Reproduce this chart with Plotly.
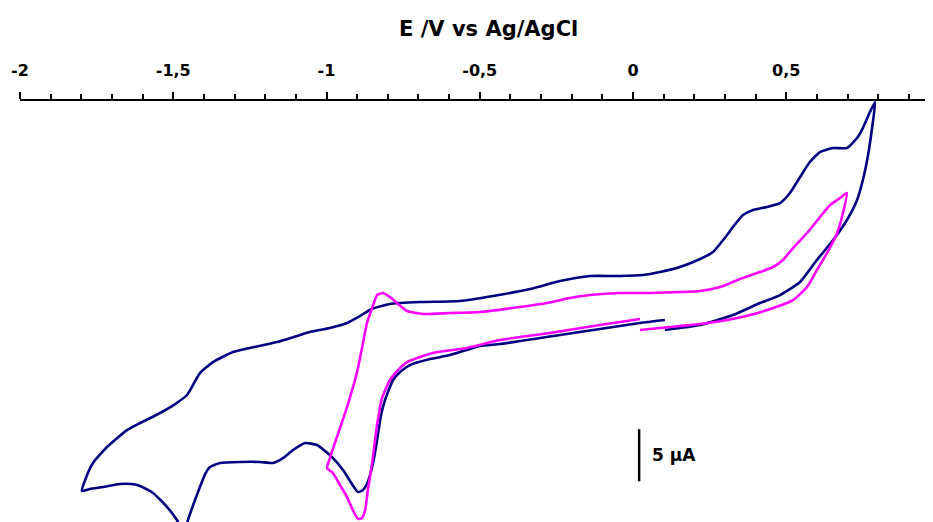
import numpy as np
import plotly.graph_objects as go

# ---- data (E in V vs Ag/AgCl, I in µA) ----
navy_E = [0.104, 0.219, 0.326, 0.414, 0.480, 0.545, 0.600, 0.653, 0.698, 0.731, 0.750, 0.767,
          0.780, 0.790,
          0.773, 0.750, 0.731, 0.698, 0.653, 0.610, 0.577, 0.545, 0.512, 0.480, 0.437, 0.392,
          0.359, 0.326, 0.307, 0.261, 0.219, 0.153, 0.088, 0.033, -0.042, -0.140, -0.238,
          -0.336, -0.457, -0.564, -0.695, -0.793, -0.852, -0.891, -0.933, -0.989, -1.054,
          -1.162, -1.250, -1.305, -1.370, -1.413, -1.455, -1.494, -1.543, -1.608, -1.651,
          -1.716, -1.762, -1.785, -1.798, -1.772, -1.729, -1.674, -1.635, -1.608, -1.566,
          -1.520, -1.488, -1.471, -1.462, -1.452, -1.429, -1.413, -1.396, -1.380, -1.347,
          -1.282, -1.217, -1.175, -1.142, -1.109, -1.070, -1.031, -0.989, -0.946, -0.917,
          -0.897, -0.881, -0.868, -0.848, -0.835, -0.822, -0.809, -0.783, -0.760, -0.728,
          -0.662, -0.597, -0.499, -0.434, -0.238, -0.108, 0.023, 0.104]
navy_I = [-0.96, -0.48, 0.48, 1.63, 2.40, 3.65, 5.77, 7.69, 9.62, 11.54, 13.46, 15.87,
          18.46, 20.96,
          20.00, 18.46, 17.50, 16.54, 16.54, 16.15, 15.19, 13.75, 12.21, 11.25, 10.87, 10.58,
          10.10, 8.94, 8.17, 6.54, 5.87, 5.10, 4.62, 4.33, 4.23, 4.23, 3.75,
          2.98, 2.31, 1.83, 1.73, 1.54, 1.06, 0.38, -0.29, -0.77, -1.15,
          -2.12, -2.69, -3.08, -4.04, -5.10, -7.21, -8.08, -8.94, -9.90, -10.58,
          -12.21, -13.75, -15.19, -16.44, -16.25, -16.06, -15.77, -15.77, -15.96, -16.63,
          -17.98, -19.23, -20.19, -20.38, -19.23, -17.31, -16.06, -14.81, -14.13, -13.75,
          -13.65, -13.65, -13.75, -13.27, -12.50, -11.83, -12.02, -12.98, -14.42, -15.77,
          -16.54, -16.35, -15.77, -13.75, -11.54, -9.13, -7.69, -5.77, -5.00, -4.33,
          -3.75, -3.37, -2.50, -2.31, -1.44, -0.87, -0.29, 0.00]

magenta_E = [0.023, 0.153, 0.219, 0.307, 0.382, 0.457, 0.522, 0.568, 0.600, 0.633, 0.666,
             0.685, 0.698,
             0.675, 0.643, 0.610, 0.568, 0.522, 0.489, 0.457, 0.405, 0.349, 0.284, 0.219,
             0.153, 0.055, -0.042, -0.140, -0.206, -0.281, -0.369, -0.499, -0.597, -0.685,
             -0.737, -0.770, -0.793, -0.816, -0.835, -0.852, -0.868, -0.884, -0.901, -0.933,
             -0.966, -0.989, -0.998, -0.979, -0.956, -0.933, -0.914, -0.897, -0.884, -0.874,
             -0.865, -0.852, -0.835, -0.819, -0.793, -0.767, -0.737, -0.653, -0.542, -0.434,
             -0.271, -0.108, 0.023]
magenta_I = [-0.96, -0.58, -0.38, 0.00, 0.48, 1.15, 1.92, 3.17, 4.81, 6.44, 8.37,
             10.29, 12.21,
             11.73, 11.06, 9.90, 8.37, 6.92, 5.77, 5.10, 4.52, 3.94, 3.17, 2.79,
             2.69, 2.60, 2.60, 2.40, 2.12, 1.63, 1.25, 0.77, 0.67, 0.58,
             0.87, 1.63, 2.21, 2.60, 2.40, 1.06, -0.29, -2.69, -5.10, -8.37,
             -11.25, -13.27, -14.23, -14.71, -15.87, -17.02, -18.27, -19.13, -19.04, -18.27,
             -16.35, -13.94, -10.10, -7.50, -5.77, -4.81, -4.04, -3.17, -2.69, -1.92,
             -1.25, -0.48, 0.10]

major_ticks = [-2, -1.5, -1, -0.5, 0, 0.5]
major_labels = ["-2", "-1,5", "-1", "-0,5", "0", "0,5"]
minor_ticks = [round(v, 1) for v in np.arange(-1.9, 0.95, 0.1)
               if abs(round(v * 2, 6) - round(v * 2)) > 1e-6]

scale_bar_uA = 5
scale_bar_E = 0.02
scale_bar_top = -10.5
title_text = "E /V vs Ag/AgCl"
scale_label = "5 µA"

fig = go.Figure()
fig.add_trace(go.Scatter(x=navy_E, y=navy_I, mode="lines",
                         line=dict(color="#000080", width=2.6, shape="spline", smoothing=0.5),
                         showlegend=False))
fig.add_trace(go.Scatter(x=magenta_E, y=magenta_I, mode="lines",
                         line=dict(color="#FF00FF", width=2.6, shape="spline", smoothing=0.5),
                         showlegend=False))

fig.add_shape(type="line", xref="x", yref="y",
              x0=scale_bar_E, x1=scale_bar_E,
              y0=scale_bar_top, y1=scale_bar_top - scale_bar_uA,
              line=dict(color="black", width=2.5))
fig.add_annotation(x=scale_bar_E + 0.035, y=scale_bar_top - scale_bar_uA / 2,
                   xref="x", yref="y", text="<b>" + scale_label + "</b>",
                   showarrow=False, xanchor="left", yanchor="middle",
                   font=dict(family="DejaVu Sans", size=17, color="black"))
fig.add_annotation(x=0.5092, y=1.1678, xref="paper", yref="paper",
                   text="<b>" + title_text + "</b>",
                   showarrow=False, xanchor="center", yanchor="middle",
                   font=dict(family="DejaVu Sans", size=21, color="black"))

fig.update_layout(
    width=933, height=522,
    margin=dict(l=12, r=0, t=93, b=0),
    paper_bgcolor="white", plot_bgcolor="white",
    xaxis=dict(side="top", range=[-2.0, 1.0049],
               showline=True, linecolor="black", linewidth=2,
               showgrid=False, zeroline=False,
               tickmode="array", tickvals=major_ticks, ticktext=major_labels,
               ticks="outside", ticklen=7, tickwidth=2, tickcolor="black",
               ticklabelstandoff=10,
               tickfont=dict(family="DejaVu Sans", size=16, color="black", weight="bold"),
               minor=dict(tickmode="array", tickvals=minor_ticks, ticks="outside",
                          ticklen=5, tickwidth=2, tickcolor="black", showgrid=False)),
    yaxis=dict(visible=False, range=[-20.19, 21.06]),
)

fig.write_html("out.html")
